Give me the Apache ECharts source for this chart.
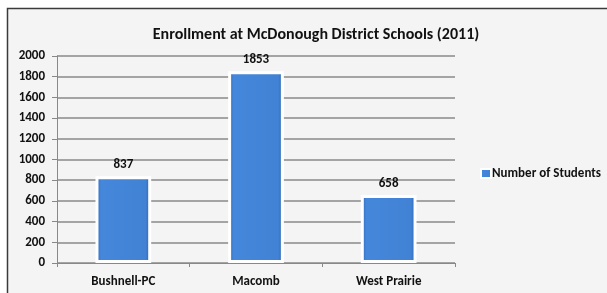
<!DOCTYPE html>
<html>
<head>
<meta charset="utf-8">
<script src="https://cdn.jsdelivr.net/npm/echarts@6/dist/echarts.min.js"></script>
<style>
html, body { margin: 0; padding: 0; background: #fff; }
#main { width: 607px; height: 293px; }
</style>
</head>
<body>
<div id="main"></div>
<script>
var schools = ['Bushnell-PC', 'Macomb', 'West Prairie'];
var students = [837, 1853, 658];
var seriesName = 'Number of Students';

var chart = echarts.init(document.getElementById('main'));
var font = 'Calibri, Carlito, "Open Sans", sans-serif';

// blue bar with darker sides, like the office 3D-ish bars
var barColor = new echarts.graphic.LinearGradient(0, 0, 1, 0, [
    { offset: 0, color: '#2d66b0' },
    { offset: 0.1, color: '#4587da' },
    { offset: 0.9, color: '#4182d5' },
    { offset: 1, color: '#2a5ea6' }
]);

var option = {
    animation: false,
    textStyle: { fontFamily: font },
    graphic: [{
        type: 'rect',
        z: -10,
        shape: { x: 7.5, y: 8.5, width: 640, height: 320 },
        style: { fill: '#f4f4f4', stroke: '#3a3a3a', lineWidth: 1.5 }
    }],
    title: {
        text: 'Enrollment at McDonough District Schools (2011)',
        left: 311,
        textAlign: 'center',
        top: 22,
        textStyle: { fontSize: 16, fontWeight: 'bold', color: '#111', fontFamily: font }
    },
    legend: {
        data: [seriesName],
        left: 475,
        top: 162,
        icon: 'rect',
        itemWidth: 10,
        itemHeight: 9,
        textStyle: { fontSize: 13, fontWeight: 'bold', color: '#111', padding: [0, 0, 0, -4] }
    },
    grid: { left: 57, right: 152, top: 56, bottom: 30 },
    xAxis: {
        type: 'category',
        data: schools,
        axisLine: { lineStyle: { color: '#888', width: 1 } },
        axisTick: { show: true, length: 4, lineStyle: { color: '#888' } },
        axisLabel: { fontSize: 13, fontWeight: 'bold', color: '#111', margin: 12 }
    },
    yAxis: {
        type: 'value',
        min: 0,
        max: 2000,
        interval: 200,
        axisLine: { show: true, lineStyle: { color: '#888', width: 1 } },
        axisTick: { show: true, length: 5, lineStyle: { color: '#888' } },
        axisLabel: {
            fontSize: 13, fontWeight: 'bold', color: '#111', margin: 12,
            formatter: function (v) { return String(v); }
        },
        splitLine: { lineStyle: { color: '#8a8a8a', width: 1.5 } }
    },
    series: [{
        name: seriesName,
        type: 'bar',
        data: students,
        barWidth: '42%',
        itemStyle: { color: barColor, borderColor: '#ffffff', borderWidth: 3 },
        label: {
            show: true,
            position: 'top',
            distance: 5,
            fontSize: 13,
            fontWeight: 'bold',
            color: '#111'
        }
    }]
};

chart.setOption(option);
</script>
</body>
</html>
